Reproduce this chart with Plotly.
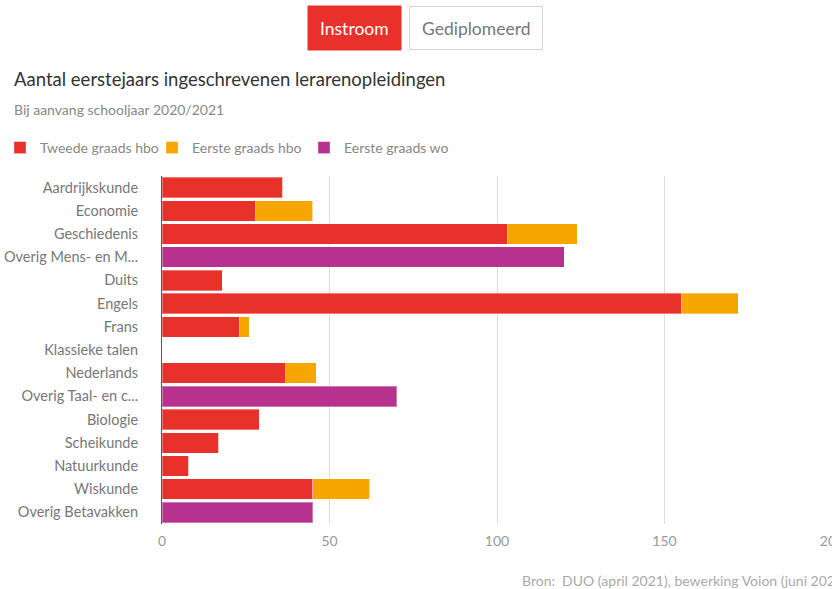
import plotly.graph_objects as go

categories = ["Aardrijkskunde", "Economie", "Geschiedenis", "Overig Mens- en M...", "Duits",
              "Engels", "Frans", "Klassieke talen", "Nederlands", "Overig Taal- en c...",
              "Biologie", "Scheikunde", "Natuurkunde", "Wiskunde", "Overig Betavakken"]
tweede_hbo = [36, 28, 103, 0, 18, 155, 23, 0, 37, 0, 29, 17, 8, 45, 0]
eerste_hbo = [0, 17, 21, 0, 0, 17, 3, 0, 9, 0, 0, 0, 0, 17, 0]
eerste_wo = [0, 0, 0, 120, 0, 0, 0, 0, 0, 70, 0, 0, 0, 0, 45]
x_ticks = [0, 50, 100, 150, 200]

FONT = "Lato"
W, H = 832, 589
L, R, T, B = 162, 832, 176, 524


def px(p):
    return (p - L) / (R - L)


def py(p):
    return (B - p) / (B - T)


fig = go.Figure()
series = [("Tweede graads hbo", tweede_hbo, "#E8312B"),
          ("Eerste graads hbo", eerste_hbo, "#F7A600"),
          ("Eerste graads wo", eerste_wo, "#B7318F")]
for name, vals, col in series:
    fig.add_trace(go.Bar(
        y=categories, x=vals, name=name, orientation="h",
        marker=dict(color=col, line=dict(color="rgba(255,255,255,0.35)", width=1)),
    ))

shapes = [
    dict(type="rect", xref="paper", yref="paper", x0=px(308), x1=px(401), y0=py(50), y1=py(6),
         fillcolor="#E8312B", line=dict(color="#E8312B", width=1), layer="above"),
    dict(type="rect", xref="paper", yref="paper", x0=px(409.5), x1=px(542.5), y0=py(49.5), y1=py(6.5),
         fillcolor="white", line=dict(color="#D4D4D4", width=1), layer="above"),
]

annotations = [
    dict(text="Instroom", x=px(354.5), y=py(28), xref="paper", yref="paper", showarrow=False,
         xanchor="center", yanchor="middle", font=dict(family=FONT, size=17.5, color="white")),
    dict(text="Gediplomeerd", x=px(476), y=py(28), xref="paper", yref="paper", showarrow=False,
         xanchor="center", yanchor="middle", font=dict(family=FONT, size=17.5, color="#777")),
    dict(text="Aantal eerstejaars ingeschrevenen lerarenopleidingen", x=px(12), y=py(79),
         xref="paper", yref="paper", showarrow=False, xanchor="left", yanchor="middle",
         font=dict(family=FONT, size=18.5, color="#333")),
    dict(text="Bij aanvang schooljaar 2020/2021", x=px(12), y=py(110),
         xref="paper", yref="paper", showarrow=False, xanchor="left", yanchor="middle",
         font=dict(family=FONT, size=14, color="#888")),
    dict(text="Bron:  DUO (april 2021), bewerking Voion (juni 2021)", x=px(520), y=py(580),
         xref="paper", yref="paper", showarrow=False, xanchor="left", yanchor="middle",
         font=dict(family=FONT, size=14, color="#AAA")),
]

fig.update_layout(
    width=W, height=H,
    margin=dict(l=L, r=W - R, t=T, b=H - B, pad=0, autoexpand=False),
    barmode="stack", bargap=0.12,
    plot_bgcolor="white", paper_bgcolor="white",
    font=dict(family=FONT, size=14, color="#777"),
    shapes=shapes, annotations=annotations,
    showlegend=True,
    legend=dict(orientation="h", x=px(0), y=py(148), xanchor="left", yanchor="middle",
                font=dict(family=FONT, size=14, color="#888"), traceorder="normal",
                entrywidth=107, entrywidthmode="pixels",
                itemclick=False, itemdoubleclick=False),
    xaxis=dict(range=[0, 200], tickvals=x_ticks, showgrid=True, gridcolor="#DDDDDD",
               gridwidth=1, zeroline=False, showline=False, automargin=False,
               ticks="outside", ticklen=4, tickcolor="rgba(0,0,0,0)",
               ticklabeloverflow="allow",
               tickfont=dict(family=FONT, size=14, color="#999"), fixedrange=True),
    yaxis=dict(autorange="reversed", showline=True, linecolor="#555", linewidth=1,
               ticks="outside", ticklen=20, tickcolor="rgba(0,0,0,0)", automargin=False,
               tickfont=dict(family=FONT, size=14.5, color="#777"), showgrid=False,
               fixedrange=True),
)

fig.write_html("out.html", config={"displayModeBar": False},
               post_script="document.body.style.margin='0';document.body.style.overflow='hidden';")
